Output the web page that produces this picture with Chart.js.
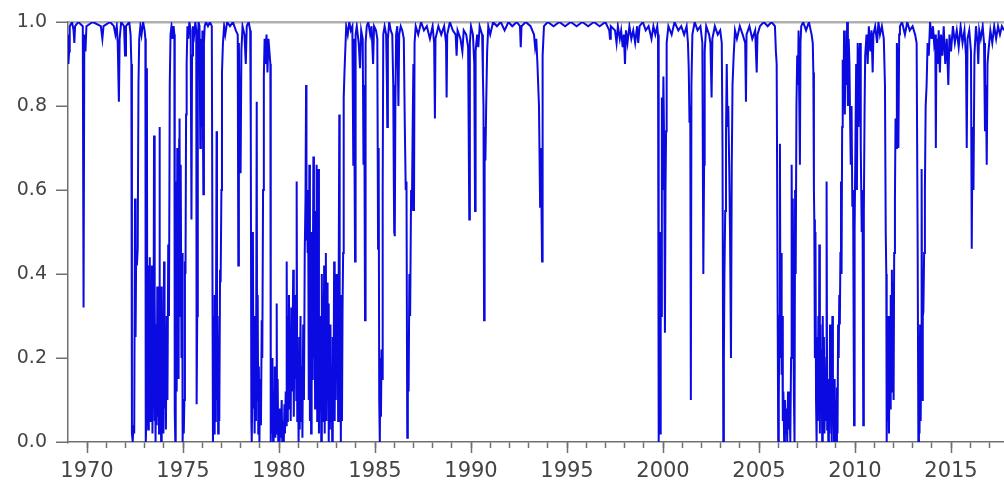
<!DOCTYPE html>
<html>
<head>
<meta charset="utf-8">
<script src="https://cdn.jsdelivr.net/npm/chart.js@4/dist/chart.umd.min.js"></script>
<style>
  html, body { margin: 0; padding: 0; background: #fff; }
  #wrap { width: 1004px; height: 481px; position: relative; }
</style>
</head>
<body>
<div id="wrap"><canvas id="probChart"></canvas></div>
<script>
// Smoothed probability, [decimal year, value]
const prob1969to1979 = [
  [1969.00,0.97],[1969.03,0.90],[1969.07,0.93],[1969.10,0.99],[1969.22,1.00],[1969.30,0.98],[1969.34,0.95],[1969.38,0.99],
  [1969.55,1.00],[1969.78,0.99],[1969.82,0.32],[1969.86,0.97],[1969.92,0.93],[1969.97,0.99],[1970.30,1.00],[1970.72,0.99],
  [1970.80,0.96],[1970.86,0.99],[1971.20,1.00],[1971.40,0.99],[1971.48,0.97],[1971.55,0.99],[1971.60,0.95],[1971.66,0.81],
  [1971.70,0.96],[1971.78,1.00],[1971.93,0.99],[1971.98,0.92],[1972.03,0.99],[1972.20,1.00],[1972.27,0.97],
  [1972.31,0.90],[1972.34,0.02],[1972.38,0.00],[1972.42,0.04],[1972.46,0.02],[1972.50,0.58],[1972.53,0.25],[1972.56,0.45],
  [1972.60,0.42],[1972.64,0.46],[1972.68,0.85],[1972.72,0.96],[1972.78,0.99],[1972.84,0.97],[1972.92,1.00],[1973.00,0.98],
  [1973.04,0.96],[1973.06,0.00],[1973.09,0.05],[1973.12,0.89],[1973.14,0.08],[1973.17,0.42],[1973.19,0.03],[1973.22,0.38],
  [1973.25,0.12],[1973.27,0.44],[1973.30,0.05],[1973.33,0.36],[1973.35,0.10],[1973.38,0.42],[1973.41,0.02],[1973.44,0.30],
  [1973.46,0.08],[1973.49,0.73],[1973.51,0.05],[1973.54,0.35],[1973.57,0.00],[1973.60,0.28],[1973.63,0.04],[1973.66,0.37],
  [1973.69,0.06],[1973.72,0.32],[1973.75,0.02],[1973.77,0.75],[1973.80,0.04],[1973.83,0.30],[1973.86,0.00],[1973.89,0.37],
  [1973.92,0.05],[1973.95,0.25],[1973.98,0.02],[1974.01,0.43],[1974.04,0.08],[1974.08,0.20],[1974.11,0.03],[1974.15,0.30],
  [1974.19,0.10],[1974.23,0.47],[1974.27,0.30],[1974.31,0.85],[1974.35,0.97],[1974.40,0.99],[1974.46,0.96],[1974.51,0.99],
  [1974.55,0.97],[1974.57,0.07],[1974.60,0.00],[1974.62,0.10],[1974.65,0.62],[1974.67,0.12],[1974.70,0.70],[1974.72,0.25],
  [1974.75,0.68],[1974.77,0.15],[1974.80,0.72],[1974.82,0.77],[1974.85,0.30],[1974.88,0.66],[1974.92,0.20],[1974.96,0.45],
  [1974.98,0.00],[1975.01,0.08],[1975.04,0.02],[1975.07,0.10],[1975.10,0.43],[1975.13,0.40],[1975.16,0.78],[1975.19,0.90],
  [1975.23,0.99],[1975.28,0.96],[1975.33,1.00],[1975.40,0.98],[1975.44,0.53],[1975.47,0.92],[1975.52,0.99],[1975.58,0.97],
  [1975.64,1.00],[1975.69,0.98],[1975.71,0.09],[1975.74,0.30],[1975.77,0.95],[1975.81,1.00],[1975.86,0.99],[1975.90,0.70],
  [1975.93,0.96],[1975.97,0.75],[1976.01,0.98],[1976.06,0.59],[1976.09,0.95],[1976.13,0.99],[1976.20,1.00],[1976.30,0.99],
  [1976.40,1.00],[1976.50,0.99],[1976.54,0.30],[1976.56,0.00],[1976.59,0.12],[1976.62,0.02],[1976.65,0.35],[1976.68,0.05],
  [1976.71,0.20],[1976.75,0.74],[1976.77,0.10],[1976.80,0.30],[1976.83,0.02],[1976.86,0.25],[1976.89,0.05],[1976.93,0.41],
  [1976.96,0.38],[1977.00,0.60],[1977.03,0.88],[1977.08,0.95],[1977.14,0.99],[1977.20,0.97],[1977.30,1.00],[1977.45,0.99],
  [1977.60,1.00],[1977.75,0.98],[1977.85,0.97],[1977.88,0.42],[1977.91,0.95],[1977.96,0.70],[1978.00,0.64],[1978.04,0.93],
  [1978.10,0.99],[1978.20,0.97],[1978.27,0.90],[1978.32,0.99],[1978.42,1.00],[1978.50,0.98],[1978.53,0.74],[1978.56,0.05],
  [1978.58,0.00],[1978.61,0.12],[1978.64,0.50],[1978.67,0.08],[1978.70,0.30],[1978.73,0.02],[1978.76,0.22],[1978.80,0.05],
  [1978.84,0.81],[1978.86,0.10],[1978.89,0.35],[1978.92,0.02],[1978.95,0.18],[1978.98,0.00],[1979.02,0.15],[1979.06,0.04],
  [1979.10,0.29],[1979.13,0.20],[1979.17,0.60],[1979.21,0.87],[1979.25,0.96],[1979.30,0.90],[1979.35,0.97],[1979.40,0.88],
  [1979.45,0.96],[1979.50,0.93],[1979.55,0.90],[1979.57,0.00],[1979.60,0.10],[1979.63,0.02],[1979.66,0.20],[1979.69,0.00],
  [1979.72,0.12],[1979.75,0.03],[1979.78,0.18],[1979.81,0.01],[1979.85,0.10],[1979.88,0.33],[1979.90,0.02],[1979.93,0.15],
  [1979.96,0.00]
];

const prob1980to1989 = [
  [1980.00,0.08],[1980.03,0.00],[1980.07,0.06],[1980.10,0.01],[1980.14,0.10],[1980.17,0.00],[1980.21,0.05],[1980.25,0.00],
  [1980.28,0.09],[1980.31,0.02],[1980.35,0.12],[1980.38,0.04],[1980.40,0.43],[1980.43,0.05],[1980.46,0.30],[1980.49,0.08],
  [1980.52,0.35],[1980.55,0.10],[1980.58,0.25],[1980.61,0.05],[1980.64,0.32],[1980.67,0.12],[1980.70,0.22],[1980.74,0.41],
  [1980.77,0.06],[1980.80,0.28],[1980.83,0.15],[1980.87,0.35],[1980.90,0.10],[1980.92,0.62],[1980.95,0.05],[1980.98,0.20],
  [1981.02,0.00],[1981.05,0.25],[1981.08,0.03],[1981.12,0.30],[1981.15,0.05],[1981.19,0.18],[1981.22,0.01],[1981.26,0.28],
  [1981.30,0.10],[1981.34,0.45],[1981.38,0.58],[1981.41,0.85],[1981.43,0.48],[1981.46,0.60],[1981.49,0.45],[1981.52,0.55],
  [1981.55,0.10],[1981.58,0.66],[1981.61,0.05],[1981.64,0.40],[1981.67,0.02],[1981.70,0.50],[1981.73,0.15],[1981.76,0.35],
  [1981.79,0.68],[1981.82,0.20],[1981.85,0.45],[1981.88,0.08],[1981.91,0.55],[1981.94,0.25],[1981.96,0.66],[1981.99,0.05],
  [1982.02,0.30],[1982.05,0.65],[1982.08,0.02],[1982.11,0.28],[1982.14,0.08],[1982.17,0.30],[1982.20,0.00],[1982.23,0.40],
  [1982.26,0.05],[1982.29,0.35],[1982.32,0.10],[1982.35,0.42],[1982.38,0.02],[1982.41,0.30],[1982.44,0.45],[1982.47,0.05],
  [1982.50,0.38],[1982.53,0.10],[1982.56,0.33],[1982.59,0.00],[1982.62,0.22],[1982.65,0.03],[1982.68,0.28],[1982.71,0.05],
  [1982.74,0.18],[1982.77,0.00],[1982.80,0.25],[1982.84,0.08],[1982.87,0.43],[1982.90,0.05],[1982.93,0.38],[1982.96,0.10],
  [1982.99,0.40],[1983.02,0.15],[1983.05,0.36],[1983.08,0.05],[1983.11,0.40],[1983.14,0.78],[1983.16,0.10],[1983.19,0.35],
  [1983.22,0.00],[1983.25,0.30],[1983.28,0.05],[1983.31,0.32],[1983.34,0.45],[1983.37,0.82],[1983.41,0.88],[1983.45,0.93],
  [1983.50,0.99],[1983.58,0.97],[1983.66,1.00],[1983.74,0.98],[1983.82,0.99],[1983.87,0.66],[1983.90,0.96],[1983.96,0.43],
  [1983.99,0.97],[1984.05,0.99],[1984.15,0.95],[1984.22,0.89],[1984.28,0.98],[1984.36,0.96],[1984.40,0.66],[1984.44,0.85],
  [1984.48,0.29],[1984.51,0.95],[1984.57,0.99],[1984.65,1.00],[1984.75,0.97],[1984.82,0.99],[1984.90,0.90],[1984.95,0.99],
  [1985.05,0.98],[1985.12,0.96],[1985.16,0.46],[1985.19,0.70],[1985.22,0.10],[1985.25,0.00],[1985.28,0.20],[1985.31,0.06],
  [1985.34,0.22],[1985.37,0.15],[1985.40,0.60],[1985.43,0.97],[1985.50,0.99],[1985.58,0.97],[1985.62,0.85],[1985.64,0.75],
  [1985.67,0.96],[1985.74,1.00],[1985.82,0.98],[1985.90,0.97],[1985.95,0.85],[1985.98,0.62],[1986.00,0.50],[1986.03,0.49],
  [1986.06,0.80],[1986.10,0.97],[1986.16,0.99],[1986.22,0.80],[1986.26,0.97],[1986.34,0.99],[1986.42,0.98],[1986.50,0.96],
  [1986.55,0.76],[1986.60,0.60],[1986.64,0.62],[1986.68,0.01],[1986.71,0.20],[1986.75,0.12],[1986.79,0.40],[1986.83,0.30],
  [1986.88,0.60],[1986.92,0.55],[1986.96,0.74],[1987.00,0.90],[1987.03,0.55],[1987.06,0.95],[1987.12,0.99],[1987.25,0.97],
  [1987.40,1.00],[1987.55,0.98],[1987.70,0.99],[1987.86,0.96],[1988.00,0.99],[1988.08,0.95],[1988.12,0.77],[1988.15,0.96],
  [1988.30,0.99],[1988.45,0.97],[1988.60,0.99],[1988.70,0.95],[1988.73,0.82],[1988.76,0.97],[1988.90,1.00],[1989.05,0.98],
  [1989.20,0.97],[1989.25,0.92],[1989.30,0.98],[1989.45,0.96],[1989.55,0.93],[1989.62,0.98],[1989.75,0.97],[1989.85,0.94],
  [1989.91,0.53],[1989.94,0.95]
];

const prob1990to1999 = [
  [1990.00,0.99],[1990.10,0.97],[1990.17,0.90],[1990.21,0.55],[1990.24,0.93],[1990.32,0.97],[1990.38,0.94],[1990.45,0.99],
  [1990.58,0.97],[1990.62,0.87],[1990.65,0.80],[1990.68,0.29],[1990.71,0.75],[1990.75,0.67],[1990.79,0.80],[1990.84,0.93],
  [1990.90,0.99],[1991.00,0.97],[1991.15,1.00],[1991.35,0.99],[1991.55,1.00],[1991.75,0.98],[1991.95,1.00],[1992.15,0.99],
  [1992.38,1.00],[1992.55,0.99],[1992.59,0.94],[1992.63,0.99],[1992.85,1.00],[1993.10,0.99],[1993.28,0.97],[1993.34,0.94],
  [1993.40,0.96],[1993.46,0.90],[1993.54,0.80],[1993.60,0.56],[1993.64,0.70],[1993.70,0.43],[1993.73,0.92],[1993.80,0.99],
  [1994.00,1.00],[1994.30,0.99],[1994.60,1.00],[1994.90,0.99],[1995.20,1.00],[1995.50,0.99],[1995.80,1.00],[1996.10,0.99],
  [1996.40,1.00],[1996.70,0.99],[1997.00,1.00],[1997.20,0.98],[1997.24,0.96],[1997.28,0.99],[1997.50,0.98],[1997.58,0.95],
  [1997.65,0.99],[1997.75,0.96],[1997.82,0.98],[1997.90,0.94],[1997.96,0.97],[1998.02,0.90],[1998.07,0.98],[1998.15,0.95],
  [1998.25,0.99],[1998.35,0.96],[1998.45,0.98],[1998.55,0.95],[1998.65,0.99],[1998.71,0.95],[1998.78,0.99],[1998.95,1.00],
  [1999.10,0.98],[1999.25,0.99],[1999.40,0.96],[1999.50,0.99],[1999.60,0.97],[1999.70,0.99],[1999.74,0.97],[1999.76,0.00],
  [1999.79,0.05],[1999.82,0.14],[1999.85,0.02],[1999.88,0.50],[1999.91,0.30],[1999.94,0.82],[1999.97,0.60]
];

const prob2000to2009 = [
  [2000.02,0.87],[2000.06,0.70],[2000.10,0.26],[2000.13,0.60],[2000.16,0.74],[2000.19,0.95],[2000.28,0.99],[2000.45,0.97],
  [2000.60,1.00],[2000.80,0.98],[2000.95,0.99],[2001.10,0.97],[2001.23,0.99],[2001.30,0.95],[2001.34,0.89],[2001.38,0.76],
  [2001.42,0.80],[2001.45,0.10],[2001.48,0.85],[2001.53,0.97],[2001.65,1.00],[2001.80,0.98],[2001.95,0.99],[2002.05,0.95],
  [2002.10,0.40],[2002.14,0.66],[2002.17,0.93],[2002.25,0.99],[2002.40,0.97],[2002.47,0.95],[2002.53,0.82],[2002.57,0.96],
  [2002.70,0.99],[2002.85,0.97],[2002.98,0.98],[2003.06,0.95],[2003.10,0.70],[2003.14,0.00],[2003.17,0.20],[2003.20,0.40],
  [2003.24,0.55],[2003.28,0.73],[2003.32,0.90],[2003.36,0.75],[2003.40,0.80],[2003.45,0.65],[2003.49,0.50],[2003.54,0.20],
  [2003.58,0.65],[2003.62,0.85],[2003.68,0.92],[2003.75,0.98],[2003.85,0.96],[2004.00,0.99],[2004.15,0.97],[2004.28,0.95],
  [2004.32,0.81],[2004.35,0.97],[2004.50,0.99],[2004.65,0.96],[2004.80,0.98],[2004.88,0.88],[2004.92,0.97],[2005.05,0.99],
  [2005.25,1.00],[2005.45,0.99],[2005.65,1.00],[2005.83,0.99],[2005.88,0.93],[2005.92,0.90],[2006.00,0.00],[2006.03,0.10],
  [2006.06,0.30],[2006.09,0.71],[2006.12,0.20],[2006.15,0.45],[2006.18,0.16],[2006.21,0.30],[2006.24,0.05],[2006.27,0.12],
  [2006.31,0.00],[2006.35,0.10],[2006.39,0.02],[2006.43,0.08],[2006.47,0.00],[2006.51,0.12],[2006.55,0.03],[2006.59,0.09],
  [2006.63,0.00],[2006.67,0.20],[2006.70,0.66],[2006.73,0.30],[2006.76,0.58],[2006.79,0.30],[2006.82,0.10],[2006.85,0.00],
  [2006.88,0.60],[2006.91,0.40],[2006.95,0.80],[2006.99,0.92],[2007.03,0.85],[2007.06,0.98],[2007.10,0.80],[2007.13,0.66],
  [2007.16,0.95],[2007.20,0.99],[2007.30,1.00],[2007.45,0.98],[2007.60,1.00],[2007.74,0.97],[2007.80,0.95],[2007.83,0.88],
  [2007.86,0.60],[2007.88,0.53],[2007.91,0.20],[2007.94,0.50],[2007.97,0.10],[2008.00,0.00],[2008.03,0.25],[2008.06,0.05],
  [2008.09,0.30],[2008.12,0.10],[2008.14,0.47],[2008.17,0.02],[2008.20,0.28],[2008.23,0.08],[2008.26,0.22],[2008.29,0.00],
  [2008.32,0.30],[2008.35,0.10],[2008.38,0.25],[2008.41,0.02],[2008.44,0.15],[2008.47,0.05],[2008.50,0.20],[2008.52,0.62],
  [2008.55,0.03],[2008.58,0.12],[2008.61,0.00],[2008.64,0.15],[2008.67,0.02],[2008.70,0.28],[2008.73,0.05],[2008.76,0.14],
  [2008.79,0.00],[2008.82,0.30],[2008.85,0.05],[2008.88,0.12],[2008.91,0.00],[2008.94,0.15],[2008.97,0.02],[2009.00,0.10],
  [2009.03,0.00],[2009.06,0.13],[2009.09,0.02],[2009.12,0.28],[2009.15,0.20],[2009.18,0.35],[2009.21,0.28],[2009.24,0.45],
  [2009.27,0.62],[2009.30,0.40],[2009.33,0.75],[2009.36,0.91],[2009.40,0.80],[2009.43,0.98],[2009.47,0.78],[2009.51,0.95],
  [2009.55,0.85],[2009.59,1.00],[2009.63,0.80],[2009.67,0.96],[2009.71,0.90],[2009.75,0.75],[2009.78,0.66],[2009.82,0.80],
  [2009.86,0.56],[2009.90,0.60],[2009.95,0.04],[2009.98,0.50]
];

const prob2010to2017 = [
  [2010.02,0.70],[2010.06,0.90],[2010.10,0.60],[2010.14,0.95],[2010.18,0.75],[2010.22,0.90],[2010.26,0.95],[2010.30,0.70],
  [2010.35,0.50],[2010.39,0.60],[2010.43,0.04],[2010.46,0.55],[2010.50,0.80],[2010.53,0.92],[2010.60,0.97],[2010.66,0.90],
  [2010.72,0.99],[2010.80,0.93],[2010.86,0.98],[2010.92,0.88],[2010.96,0.97],[2011.05,0.99],[2011.15,0.95],[2011.22,1.00],
  [2011.30,0.97],[2011.40,0.99],[2011.50,0.96],[2011.56,0.85],[2011.60,0.50],[2011.63,0.40],[2011.65,0.00],[2011.68,0.20],
  [2011.71,0.05],[2011.74,0.30],[2011.77,0.02],[2011.80,0.25],[2011.83,0.08],[2011.86,0.35],[2011.89,0.12],[2011.92,0.41],
  [2011.95,0.20],[2011.98,0.38],[2012.01,0.10],[2012.04,0.45],[2012.08,0.58],[2012.11,0.77],[2012.14,0.70],[2012.18,0.95],
  [2012.22,0.90],[2012.26,0.70],[2012.30,0.97],[2012.34,0.99],[2012.45,1.00],[2012.60,0.97],[2012.72,1.00],[2012.85,0.98],
  [2013.00,0.99],[2013.13,0.97],[2013.21,0.95],[2013.26,0.50],[2013.30,0.00],[2013.33,0.25],[2013.36,0.02],[2013.39,0.28],
  [2013.42,0.05],[2013.45,0.22],[2013.47,0.65],[2013.50,0.10],[2013.53,0.30],[2013.56,0.31],[2013.60,0.45],[2013.64,0.60],
  [2013.68,0.80],[2013.73,0.85],[2013.78,0.95],[2013.84,0.92],[2013.91,1.00],[2013.99,0.96],[2014.06,0.99],[2014.12,0.95],
  [2014.18,0.97],[2014.21,0.70],[2014.24,0.96],[2014.30,0.90],[2014.36,0.98],[2014.42,0.88],[2014.48,0.97],[2014.55,0.92],
  [2014.62,0.99],[2014.70,0.90],[2014.78,0.96],[2014.86,0.85],[2014.92,0.97],[2015.00,0.93],[2015.10,0.99],[2015.20,0.95],
  [2015.30,0.98],[2015.40,0.94],[2015.50,0.99],[2015.60,0.95],[2015.70,0.98],[2015.78,0.92],[2015.82,0.70],[2015.86,0.96],
  [2015.95,0.98],[2016.04,0.93],[2016.08,0.46],[2016.12,0.75],[2016.17,0.60],[2016.22,0.92],[2016.30,0.99],[2016.38,0.95],
  [2016.42,0.90],[2016.47,0.98],[2016.55,0.96],[2016.65,0.99],[2016.72,0.95],[2016.77,0.74],[2016.82,0.85],[2016.86,0.66],
  [2016.90,0.90],[2016.95,0.93],[2017.05,0.98],[2017.15,0.95],[2017.25,0.99],[2017.35,0.96],[2017.45,0.99],[2017.55,0.97],
  [2017.65,0.99],[2017.76,0.98]
];

// axis ticks
const yearLabels = [1970, 1975, 1980, 1985, 1990, 1995, 2000, 2005, 2010, 2015];
const probTicks = [0, 0.2, 0.4, 0.6, 0.8, 1.0];
const firstYear = 1970, lastYear = 2017;

const points = [prob1969to1979, prob1980to1989, prob1990to1999, prob2000to2009, prob2010to2017]
  .flat()
  .map(p => ({ x: p[0], y: p[1] }));

const axisGray = '#707070';
const textGray = '#444';

const whiteBg = {
  id: 'whiteBg',
  beforeDraw(chart) {
    const c = chart.ctx;
    c.save();
    c.fillStyle = '#fff';
    c.fillRect(0, 0, chart.width, chart.height);
    c.restore();
  }
};

// longer tick marks under the labelled years
const majorTicks = {
  id: 'majorTicks',
  afterDraw(chart) {
    const c = chart.ctx, xs = chart.scales.x, bottom = chart.chartArea.bottom;
    c.save();
    c.strokeStyle = axisGray;
    c.lineWidth = 1.5;
    yearLabels.forEach(yr => {
      const px = Math.round(xs.getPixelForValue(yr)) + 0.5;
      c.beginPath();
      c.moveTo(px, bottom);
      c.lineTo(px, bottom + 11);
      c.stroke();
    });
    c.restore();
  }
};

new Chart(document.getElementById('probChart'), {
  type: 'line',
  data: {
    datasets: [{
      data: points,
      borderColor: 'rgb(10,10,225)',
      borderWidth: 2,
      pointRadius: 0,
      tension: 0,
      fill: false
    }]
  },
  options: {
    responsive: true,
    maintainAspectRatio: false,
    animation: false,
    devicePixelRatio: 1,
    layout: { padding: { top: 22, right: 0, left: 0, bottom: 0 } },
    plugins: { legend: { display: false }, tooltip: { enabled: false } },
    scales: {
      x: {
        type: 'linear',
        min: 1969.01,
        max: 2017.76,
        afterBuildTicks(scale) {
          const t = [];
          for (let y = firstYear; y <= lastYear; y++) t.push({ value: y });
          scale.ticks = t;
        },
        afterFit(scale) { scale.height = 39; },
        ticks: {
          autoSkip: false,
          maxRotation: 0,
          padding: 11,
          color: textGray,
          font: { family: 'DejaVu Sans', size: 21 },
          callback: v => yearLabels.includes(v) ? String(v) : ''
        },
        grid: {
          drawOnChartArea: false,
          drawTicks: true,
          tickLength: 6,
          tickColor: axisGray,
          tickWidth: 1.5
        },
        border: { display: true, color: axisGray, width: 1.5 }
      },
      y: {
        min: 0,
        max: 1,
        afterBuildTicks(scale) {
          scale.ticks = probTicks.map(v => ({ value: v }));
        },
        afterFit(scale) { scale.width = 68; },
        ticks: {
          padding: 9,
          color: textGray,
          font: { family: 'DejaVu Sans', size: 19 },
          callback: v => v.toFixed(1)
        },
        grid: {
          drawTicks: true,
          tickLength: 12,
          tickColor: axisGray,
          tickWidth: 1.5,
          color: ctx => (ctx.tick && ctx.tick.value === 1) ? '#b0b0b0' : 'rgba(0,0,0,0)',
          lineWidth: 2.5
        },
        border: { display: true, color: axisGray, width: 1.5 }
      }
    }
  },
  plugins: [whiteBg, majorTicks]
});
</script>
</body>
</html>
